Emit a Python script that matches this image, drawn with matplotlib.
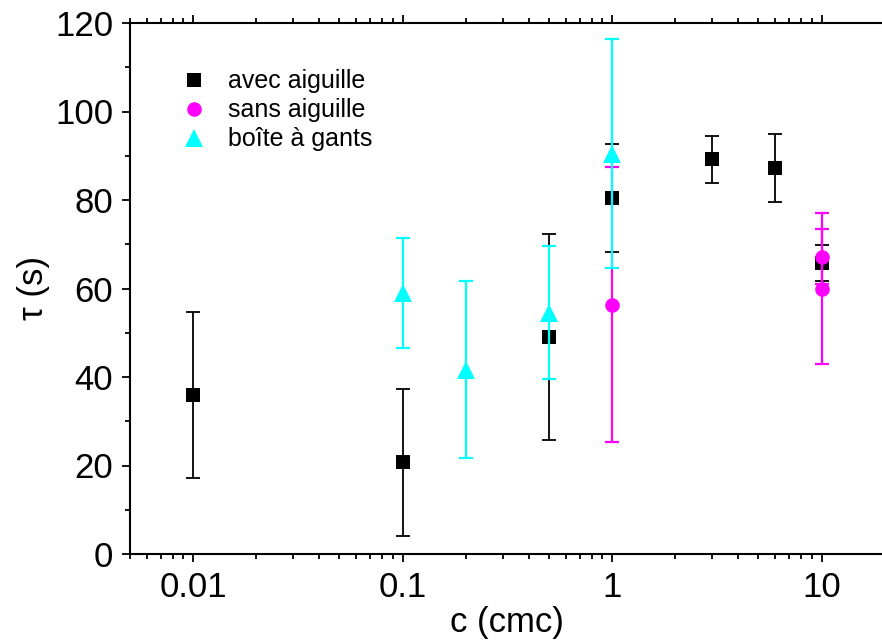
import numpy as np
import matplotlib.pyplot as plt
from matplotlib.ticker import MultipleLocator, LogLocator, FixedLocator, FixedFormatter, NullFormatter

plt.rcParams['font.family'] = ['Liberation Sans', 'DejaVu Sans']

# avec aiguille (black squares)
c_avec = [0.01, 0.1, 0.5, 1, 3, 6, 10]
tau_avec = [35.9, 20.7, 49.0, 80.5, 89.2, 87.2, 65.7]
err_avec = [18.8, 16.7, 23.3, 12.2, 5.3, 7.7, 4.1]

# sans aiguille (magenta circles)
c_sans = [1, 10, 10]
tau_sans = [56.3, 67.2, 60.0]
err_sans = [31.1, 6.2, 17.1]

# boîte à gants (cyan triangles)
c_boite = [0.1, 0.2, 0.5, 1]
tau_boite = [58.9, 41.6, 54.5, 90.5]
err_boite = [12.4, 20.0, 15.0, 25.9]

W, H = 882, 644
fig = plt.figure(figsize=(W / 100, H / 100), dpi=100)
left, right, top, bottom = 130, 884.6, 23, 554
ax = fig.add_axes([left / W, 1 - bottom / H, (right - left) / W, (bottom - top) / H])

series = [
    (c_avec, tau_avec, err_avec, 'black', 's', 10, 1.3, 'avec aiguille', 3),
    (c_sans, tau_sans, err_sans, '#FF00FF', 'o', 10.5, 1.6, 'sans aiguille', 4),
    (c_boite, tau_boite, err_boite, '#00FFFF', '^', 12.5, 1.6, 'boîte à gants', 5),
]
for x, y, e, col, mk, ms, lw, lab, z in series:
    ax.errorbar(x, y, yerr=e, fmt='none', ecolor=col, elinewidth=lw,
                capsize=5, capthick=lw, zorder=z)
    ax.plot(x, y, linestyle='none', marker=mk, color=col, markersize=ms,
            markeredgewidth=0, label=lab, zorder=z + 0.5)

ax.set_xscale('log')
ax.set_xlim(0.005, 20)
ax.set_ylim(0, 120)

ax.xaxis.set_major_locator(FixedLocator([0.01, 0.1, 1, 10]))
ax.xaxis.set_major_formatter(FixedFormatter(['0.01', '0.1', '1', '10']))
ax.xaxis.set_minor_locator(LogLocator(base=10, subs=np.arange(2, 10)))
ax.xaxis.set_minor_formatter(NullFormatter())
ax.yaxis.set_major_locator(MultipleLocator(20))
ax.yaxis.set_minor_locator(MultipleLocator(10))

ax.tick_params(which='both', direction='out', top=True, right=False,
               labelsize=25, width=1.3, pad=6)
ax.tick_params(which='major', length=6)
ax.tick_params(which='minor', length=3.5)
for s in ['left', 'bottom', 'top']:
    ax.spines[s].set_linewidth(1.5)
ax.spines['right'].set_visible(False)

ax.set_xlabel('c (cmc)', fontsize=25, labelpad=2)
ax.set_ylabel('τ (s)', fontsize=25, labelpad=4)

ax.legend(loc='upper left', bbox_to_anchor=(0.035, 0.955), frameon=False,
          fontsize=18, handletextpad=0.75, labelspacing=0.2, handlelength=1.2,
          numpoints=1)

fig.savefig('out.png', dpi=100)
